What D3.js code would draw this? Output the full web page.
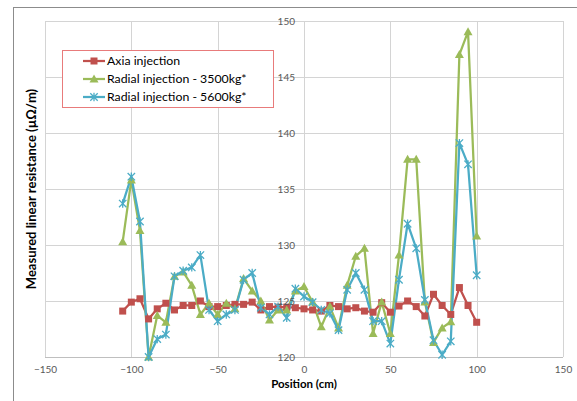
<!DOCTYPE html>
<html><head><meta charset="utf-8">
<script src="https://cdn.jsdelivr.net/npm/d3@7"></script>
<style>
html,body{margin:0;padding:0;background:#fff;}
svg{display:block;font-family:Lato,"Open Sans","Liberation Sans",sans-serif;}
</style></head>
<body>
<svg id="chart" width="577" height="401"></svg>
<script>
const positions = [-105,-100,-95,-90,-85,-80,-75,-70,-65,-60,-55,-50,-45,-40,-35,-30,-25,-20,-15,-10,-5,0,5,10,15,20,25,30,35,40,45,50,55,60,65,70,75,80,85,90,95,100];
const axial = [124.1,124.9,125.2,123.4,124.3,124.8,124.2,124.6,124.6,125.0,124.5,124.5,124.6,124.7,124.7,124.9,124.2,124.5,124.45,124.45,124.4,124.3,124.2,124.1,124.6,124.5,124.3,124.4,124.1,124.0,124.85,124.0,124.55,125.0,124.5,123.66,125.6,124.6,123.8,126.2,124.6,123.1];
const radial3500 = [130.3,135.8,131.3,120.0,123.7,123.1,127.2,127.6,126.4,123.8,124.8,123.8,124.8,124.3,127.0,125.9,125.0,123.3,124.2,124.2,125.9,126.3,124.9,122.7,124.5,122.6,126.4,129.0,129.7,122.1,124.9,122.1,129.1,137.65,137.65,124.9,121.3,122.6,123.15,147.0,149.05,130.8];
const radial5600 = [133.7,136.1,132.1,120.0,121.6,122.0,127.2,127.7,128.0,129.1,124.2,123.2,123.8,124.2,126.9,127.5,124.4,123.8,124.5,123.5,126.1,125.4,124.9,124.2,123.9,122.4,126.0,127.5,126.0,123.2,123.2,121.2,126.9,131.9,129.7,125.1,121.5,120.2,121.4,139.1,137.2,127.3];
const seriesNames = ["Axia injection","Radial injection - 3500kg*","Radial injection - 5600kg*"];
const seriesColors = ["#c0504d","#9bbb59","#4bacc6"];
const xTicks = [-150,-100,-50,0,50,100,150];
const yTicks = [120,125,130,135,140,145,150];

const svg = d3.select("#chart");
const x = d3.scaleLinear().domain([-150,150]).range([45,563]);
const y = d3.scaleLinear().domain([120,150]).range([357,21]);

// outer chart border
svg.append("rect").attr("x",13.5).attr("y",7.5).attr("width",600).attr("height",420)
  .attr("fill","#fff").attr("stroke","#8c8c8c").attr("stroke-width",1);

// gridlines
const g = svg.append("g");
g.selectAll(".hg").data(yTicks).join("line")
  .attr("x1",x(-150)).attr("x2",x(150)).attr("y1",d=>Math.round(y(d))+0.5).attr("y2",d=>Math.round(y(d))+0.5)
  .attr("stroke","#d4d4d4").attr("stroke-width",1);
g.selectAll(".vg").data(xTicks).join("line")
  .attr("y1",y(120)).attr("y2",y(150)).attr("x1",d=>Math.round(x(d))+0.5).attr("x2",d=>Math.round(x(d))+0.5)
  .attr("stroke","#d4d4d4").attr("stroke-width",1);
g.append("line").attr("x1",x(-150)).attr("x2",x(150)).attr("y1",Math.round(y(120))+0.5).attr("y2",Math.round(y(120))+0.5)
  .attr("stroke","#bfbfbf");

// x tick labels
const xAxis = d3.axisBottom(x).tickValues(xTicks).tickSize(0).tickPadding(9);
const xa = svg.append("g").attr("transform",`translate(0,${y(120)})`).call(xAxis);
xa.select(".domain").remove();
xa.selectAll("text").attr("font-size",10).attr("fill","#595959").attr("font-family","Lato,'Open Sans',sans-serif");

// series
const sets = [axial, radial3500, radial5600];
const line = d3.line().x((d,i)=>x(positions[i])).y(d=>y(d));
sets.forEach((vals,k)=>{
  svg.append("path").datum(vals).attr("d",line).attr("fill","none")
    .attr("stroke",seriesColors[k]).attr("stroke-width",2.25).attr("stroke-linejoin","round");
});
function marker(sel, k, cx, cy){
  if(k===0){
    sel.append("rect").attr("x",cx-3.5).attr("y",cy-3.5).attr("width",7).attr("height",7).attr("fill",seriesColors[0]);
  } else if(k===1){
    sel.append("path").attr("d",`M${cx},${cy-4.5}L${cx+4.5},${cy+3.5}L${cx-4.5},${cy+3.5}Z`).attr("fill",seriesColors[1]);
  } else {
    const s=3.7;
    sel.append("path").attr("d",`M${cx-s},${cy-s}L${cx+s},${cy+s}M${cx-s},${cy+s}L${cx+s},${cy-s}M${cx},${cy-s-0.5}L${cx},${cy+s+0.5}`)
      .attr("stroke",seriesColors[2]).attr("stroke-width",1.3).attr("fill","none");
  }
}
sets.forEach((vals,k)=>{
  const mg = svg.append("g");
  vals.forEach((v,i)=>marker(mg,k,x(positions[i]),y(v)));
});

// y tick labels next to the vertical axis at x=0
svg.append("g").selectAll("text").data(yTicks).join("text")
  .attr("x",x(0)-9).attr("y",d=>y(d)+3.5).attr("text-anchor","end")
  .attr("font-size",10).attr("fill","#595959").text(d=>d);

// axis titles
svg.append("text").attr("x",x(0)).attr("y",388).attr("text-anchor","middle")
  .attr("font-size",11.5).attr("font-weight","bold").attr("fill","#000").text("Position (cm)");
svg.append("text").attr("transform",`translate(36,${(y(120)+y(150))/2}) rotate(-90)`).attr("text-anchor","middle")
  .attr("font-size",13).attr("font-weight","bold").attr("fill","#000").text("Measured linear resistance (µΩ/m)");

// legend
const lg = svg.append("g");
lg.append("rect").attr("x",62.5).attr("y",50.5).attr("width",211).attr("height",57)
  .attr("fill","#fff").attr("stroke","#e87b7b").attr("stroke-width",1);
seriesNames.forEach((n,k)=>{
  const yy = 61 + k*18;
  lg.append("line").attr("x1",83).attr("x2",105).attr("y1",yy).attr("y2",yy)
    .attr("stroke",seriesColors[k]).attr("stroke-width",2.25);
  marker(lg,k,94,yy);
  lg.append("text").attr("x",107).attr("y",yy+4).attr("font-size",12.3).attr("fill","#000").text(n);
});
</script>
</body></html>
